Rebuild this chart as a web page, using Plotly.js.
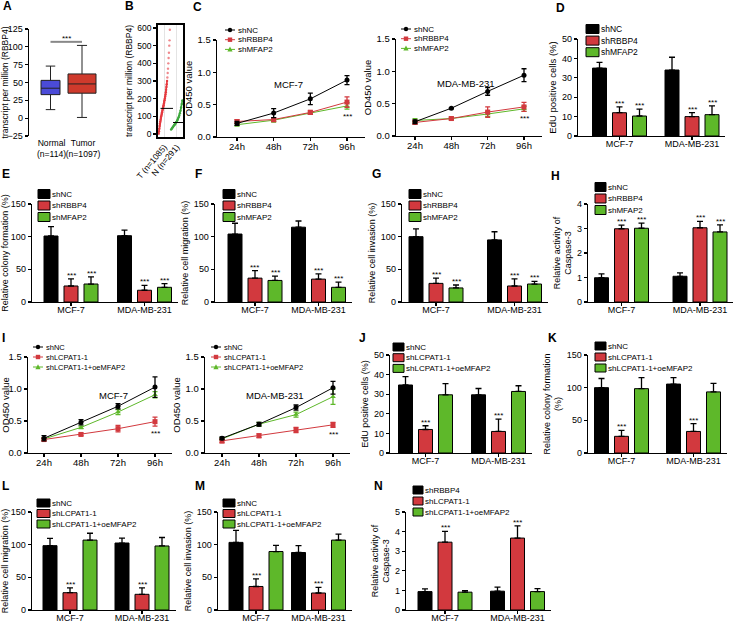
<!DOCTYPE html>
<html><head><meta charset="utf-8">
<script src="https://cdn.plot.ly/plotly-3.0.1.min.js"></script>
<style>html,body{margin:0;padding:0;background:#fff}#chart{width:738px;height:624px}</style>
</head><body><div id="chart"></div>
<script>
// ================= DATA =================
// Panel A (box summary)
const boxCategories = ['Normal<br>(n=114)', 'Tumor<br>(n=1097)'];
const boxLowerFence = [12, 1];
const boxQ1 = [33, 35];
const boxMedian = [42, 48];
const boxQ3 = [53, 62];
const boxUpperFence = [73, 102];

// Panel B (sorted TPM values read from the dot strip)
const dotCategories = ['T (n=1085)', 'N (n=291)'];
const tumorTPM = [2, 15, 30, 45, 58, 70, 80, 90, 99, 107, 115, 123, 131, 139, 147, 155, 163, 172, 181, 191, 201, 212, 224, 237, 251, 266, 282, 300, 320, 345, 370, 400, 430, 460, 500, 530, 590];
const normalTPM = [25, 30, 35, 40, 45, 50, 55, 60, 65, 70, 78, 86, 95, 105, 118, 132, 150, 170, 190];
const dotMedians = [145, 65];
const denseLimit = 300; // above this value the reference shows isolated dots

// Common categories
const timePoints = ['24h', '48h', '72h', '96h'];
const cellLines = ['MCF-7', 'MDA-MB-231'];
const groupsKD = ['shNC', 'shRBBP4', 'shMFAP2'];
const groupsRescue = ['shNC', 'shLCPAT1-1', 'shLCPAT1-1+oeMFAP2'];
const groupsN = ['shRBBP4', 'shLCPAT1-1', 'shLCPAT1-1+oeMFAP2'];

// Panel C (OD450)
const cMcfMean = [[0.21, 0.37, 0.59, 0.88], [0.24, 0.27, 0.38, 0.54], [0.19, 0.26, 0.37, 0.48]];
const cMcfErr  = [[0.03, 0.07, 0.09, 0.07], [0.03, 0.03, 0.03, 0.08], [0.02, 0.03, 0.02, 0.05]];
const cMdaMean = [[0.22, 0.43, 0.69, 0.94], [0.21, 0.27, 0.37, 0.45], [0.24, 0.27, 0.34, 0.42]];
const cMdaErr  = [[0.03, 0.01, 0.06, 0.10], [0.03, 0.02, 0.08, 0.07], [0.03, 0.02, 0.04, 0.04]];

// Panel D-H
const dMean = [[35, 34], [12, 10], [10.3, 11]];
const dErr  = [[3, 6.6], [3, 2], [3.6, 4.5]];
const eMean = [[101, 101.5], [24.5, 18], [27.5, 22.5]];
const eErr  = [[14.5, 8.5], [11, 7.5], [11, 5.5]];
const fMean = [[104, 114.5], [36.5, 35], [33, 22.5]];
const fErr  = [[16.5, 9.5], [11.5, 8], [6.5, 8]];
const gMean = [[100, 95], [28.5, 24.5], [21.5, 27.5]];
const gErr  = [[12, 12.5], [8, 11], [4.5, 4]];
const hMean = [[0.99, 1.05], [2.99, 3.03], [3.01, 2.86]];
const hErr  = [[0.16, 0.14], [0.15, 0.26], [0.21, 0.29]];

// Panel I (OD450 rescue)
const iMcfMean = [[0.23, 0.48, 0.73, 1.03], [0.21, 0.29, 0.38, 0.49], [0.22, 0.40, 0.64, 0.91]];
const iMcfErr  = [[0.04, 0.04, 0.04, 0.16], [0.02, 0.02, 0.05, 0.07], [0.02, 0.02, 0.04, 0.05]];
const iMdaMean = [[0.23, 0.45, 0.71, 1.02], [0.19, 0.27, 0.36, 0.44], [0.22, 0.45, 0.60, 0.88]];
const iMdaErr  = [[0.02, 0.03, 0.04, 0.10], [0.03, 0.03, 0.04, 0.04], [0.02, 0.03, 0.04, 0.12]];

// Panel J-N
const jMean = [[34.7, 29.7], [12, 11], [29.7, 31.4]];
const jErr  = [[4.3, 3.2], [1.9, 6.3], [5.7, 2.9]];
const kMean = [[100, 105.5], [25.5, 33], [98.5, 93.5]];
const kErr  = [[14, 10], [9, 12], [17, 13]];
const lMean = [[98.5, 102.5], [26.5, 24], [107, 98]];
const lErr  = [[11, 7.5], [7.5, 10], [10.5, 13]];
const mMean = [[103.5, 88], [36, 26], [89.5, 107]];
const mErr  = [[18.5, 10.5], [11.5, 8.5], [9.5, 9]];
const nMean = [[0.94, 0.96], [3.46, 3.67], [0.91, 0.94]];
const nErr  = [[0.14, 0.21], [0.55, 0.62], [0.08, 0.15]];

// ================= STYLE / LAYOUT HELPERS =================
const W = 738, H = 624;
const fx = p => p / W;
const fy = p => 1 - p / H;
const FONT = '"Liberation Sans", Arial, Helvetica, sans-serif';
const RED = '#D2393E', GREEN = '#5EB82A';
const COLORS = ['#000000', RED, GREEN];
const SYMBOLS = ['circle', 'square', 'triangle-up'];
const BAR_W = 14, SLOT = 20;

const traces = [];
const layout = {
  width: W, height: H, margin: {l: 0, r: 0, t: 0, b: 0},
  showlegend: false, paper_bgcolor: '#ffffff', plot_bgcolor: 'rgba(0,0,0,0)',
  font: {family: FONT, color: '#000', size: 9},
  annotations: [], shapes: [], boxmode: 'overlay'
};
const baseAxis = {
  showline: true, linecolor: '#000', linewidth: 1.3, ticks: 'outside', ticklen: 3,
  tickwidth: 1.3, tickcolor: '#000', showgrid: false, zeroline: false, fixedrange: true,
  tickfont: {family: FONT, size: 9, color: '#000'}
};
function ann(o) {
  const f = Object.assign({family: FONT, size: 9, color: '#000'}, o.font || {});
  layout.annotations.push(Object.assign({showarrow: false}, o, {font: f}));
}
function setAxes(idx, xa, ya) {
  const s = idx === 1 ? '' : String(idx);
  layout['xaxis' + s] = Object.assign({}, baseAxis, {anchor: 'y' + s}, xa);
  layout['yaxis' + s] = Object.assign({}, baseAxis, {anchor: 'x' + s}, ya);
  return s;
}
function catGeom(x0, cFirst, cLast, x1, n) {
  const unit = (cLast - cFirst) / (n - 1);
  return {domain: [fx(x0), fx(x1)], range: [(x0 - cFirst) / unit, (n - 1) + (x1 - cLast) / unit], unit};
}
function letter(t, x, y) {
  ann({xref: 'paper', yref: 'paper', x: fx(x), y: fy(y), xanchor: 'left', yanchor: 'middle',
       text: '<b>' + t + '</b>', font: {size: 12}});
}
function rectLegend(lg, names) {
  names.forEach((nm, i) => {
    const yc = lg.y + i * lg.dy;
    layout.shapes.push({type: 'rect', xref: 'paper', yref: 'paper', x0: fx(lg.x), x1: fx(lg.x + lg.w),
      y0: fy(yc + lg.h / 2), y1: fy(yc - lg.h / 2), fillcolor: COLORS[i], line: {color: '#000', width: 1}});
    ann({xref: 'paper', yref: 'paper', x: fx(lg.x + lg.w), y: fy(yc), xanchor: 'left', yanchor: 'middle',
         text: nm, font: {size: lg.fs || 8}});
  });
}
function lineLegend(lg, names) {
  names.forEach((nm, i) => {
    const yc = lg.y + i * lg.dy, xm = lg.x + lg.len / 2, r = 2.2;
    layout.shapes.push({type: 'line', xref: 'paper', yref: 'paper', x0: fx(lg.x), x1: fx(lg.x + lg.len),
      y0: fy(yc), y1: fy(yc), line: {color: COLORS[i], width: 1}});
    if (i === 0) layout.shapes.push({type: 'circle', xref: 'paper', yref: 'paper', x0: fx(xm - r), x1: fx(xm + r),
      y0: fy(yc + r), y1: fy(yc - r), fillcolor: COLORS[i], line: {width: 0}});
    else if (i === 1) layout.shapes.push({type: 'rect', xref: 'paper', yref: 'paper', x0: fx(xm - r), x1: fx(xm + r),
      y0: fy(yc + r), y1: fy(yc - r), fillcolor: COLORS[i], line: {width: 0}});
    else layout.shapes.push({type: 'path', xref: 'paper', yref: 'paper',
      path: `M${fx(xm - r - 0.4)},${fy(yc + r)} L${fx(xm + r + 0.4)},${fy(yc + r)} L${fx(xm)},${fy(yc - r - 0.6)} Z`,
      fillcolor: COLORS[i], line: {width: 0}});
    ann({xref: 'paper', yref: 'paper', x: fx(lg.x + lg.len + 1), y: fy(yc), xanchor: 'left', yanchor: 'middle',
         text: nm, font: {size: lg.fs || 8}});
  });
}
function barPanel(idx, g, names, means, errs, yMax, dtick, yTitle, starIdx, lg) {
  const xg = catGeom(g.x0, g.c0, g.c1, g.x1, cellLines.length);
  const s = setAxes(idx,
    {type: 'category', domain: xg.domain, range: xg.range, tickangle: 0, ticklabelstandoff: -4,
     tickfont: {family: FONT, size: 9}},
    {domain: [fy(g.yb), fy(g.yt)], range: [0, yMax], dtick: dtick, tick0: 0,
     title: {text: yTitle, font: {family: FONT, size: g.tf || 9}, standoff: 3}});
  names.forEach((nm, i) => {
    traces.push({type: 'bar', name: nm, x: cellLines, y: means[i], xaxis: 'x' + s, yaxis: 'y' + s,
      width: BAR_W / xg.unit, offset: ((i - 1) * SLOT - BAR_W / 2) / xg.unit,
      marker: {color: COLORS[i], line: {color: '#000', width: 1}},
      error_y: {type: 'data', symmetric: false, array: errs[i], arrayminus: errs[i].map(() => 0),
                color: '#000', thickness: 1.3, width: 3}});
    if (starIdx.includes(i)) cellLines.forEach((c, j) => ann({xref: 'x' + s, yref: 'y' + s, x: j,
      xshift: (i - 1) * SLOT, y: means[i][j] + errs[i][j], yanchor: 'bottom', yshift: -3,
      text: '***', font: {size: 8}}));
  });
  rectLegend(lg, names);
}
function linePanel(idx, g, names, means, errs, label, lg) {
  const xg = catGeom(g.x0, g.c0, g.c3, g.x1, timePoints.length);
  const s = setAxes(idx,
    {type: 'category', domain: xg.domain, range: xg.range, tickangle: 0, ticklabelstandoff: -3,
     tickfont: {family: FONT, size: 9.5}},
    {domain: [fy(g.yb), fy(g.yt)], range: [0, 1.5], dtick: 0.5, tick0: 0, tickformat: '.1f',
     tickfont: {family: FONT, size: 9.5},
     title: {text: 'OD450 value', font: {family: FONT, size: 9.5}, standoff: 3}});
  [2, 1, 0].forEach(i => {
    traces.push({type: 'scatter', mode: 'lines+markers', name: names[i], x: timePoints, y: means[i],
      xaxis: 'x' + s, yaxis: 'y' + s, line: {color: COLORS[i], width: 1},
      marker: {symbol: SYMBOLS[i], size: 5, color: COLORS[i]},
      error_y: {type: 'data', array: errs[i], color: COLORS[i], thickness: 1.3, width: 2.5}});
  });
  ann({xref: 'paper', yref: 'paper', x: fx(g.lx), y: fy(g.ly), text: label, font: {size: 9.5}});
  const last = timePoints.length - 1;
  const low = Math.min(...means.map((m, i) => m[last] - errs[i][last]));
  ann({xref: 'x' + s, yref: 'y' + s, x: last, y: low, yanchor: 'top', yshift: -1, text: '***', font: {size: 8}});
  lineLegend(lg, names);
}

// ================= PANEL A =================
(function () {
  const xg = catGeom(29, 50.5, 82, 110, 2);
  setAxes(1,
    {type: 'category', domain: xg.domain, range: xg.range, showline: false, ticks: '', tickangle: 0,
     ticklabelshift: 1, tickfont: {family: FONT, size: 8.6}},
    {domain: [fy(136), fy(29)], range: [-25, 125], dtick: 25, tick0: 0,
     tickfont: {family: FONT, size: 9},
     title: {text: 'transcript per million (RBBP4)', font: {family: FONT, size: 8.5}, standoff: 3}});
  const fills = ['#4B4BD8', '#CF3A2C'];
  const widths = [19, 28];
  const caps = [0.5, 0.36];
  boxCategories.forEach((c, i) => traces.push({type: 'box', x: [c], q1: [boxQ1[i]], median: [boxMedian[i]],
    q3: [boxQ3[i]], lowerfence: [boxLowerFence[i]], upperfence: [boxUpperFence[i]],
    xaxis: 'x', yaxis: 'y', fillcolor: fills[i], line: {color: '#222', width: 1},
    width: widths[i] / xg.unit, whiskerwidth: caps[i], boxpoints: false, name: c}));
  const sigY = Math.max(...boxUpperFence) + 5;
  layout.shapes.push({type: 'line', xref: 'x', yref: 'y', x0: 0, x1: 1, y0: sigY, y1: sigY,
    line: {color: '#888', width: 2}});
  ann({xref: 'x', yref: 'y', x: 0.5, y: sigY, yanchor: 'bottom', yshift: -3, text: '***', font: {size: 8}});
})();

// ================= PANEL B =================
(function () {
  const yTopPx = 28, yBotPx = 134, frameTop = 25, frameBot = 137;
  const per = 600 / (yBotPx - yTopPx);
  setAxes(2,
    {domain: [fx(158), fx(183)], range: [-0.5, 1.5], tickvals: [0, 1], ticktext: dotCategories,
     tickangle: -50, ticks: '', mirror: true, linewidth: 1.8, showgrid: true, gridcolor: '#e4e4e4',
     tickfont: {family: FONT, size: 8.5}},
    {domain: [fy(frameBot), fy(frameTop)], range: [0 - (frameBot - yBotPx) * per, 600 + (yTopPx - frameTop) * per],
     dtick: 100, tick0: 0, mirror: true, linewidth: 1.8, tickfont: {family: FONT, size: 8.5},
     title: {text: 'transcript per million (RBBP4)', font: {family: FONT, size: 8.5}, standoff: 3}});
  const sets = [tumorTPM, normalTPM];
  const cols = ['#E5393F', '#3DA83D'];
  sets.forEach((vals, c) => {
    const xs = vals.map((v, k) => c - 0.45 + 0.9 * k / (vals.length - 1));
    const dense = vals.map((v, k) => k).filter(k => vals[k] <= denseLimit);
    const tail = vals.map((v, k) => k).filter(k => vals[k] > denseLimit);
    traces.push({type: 'scatter', mode: 'lines+markers', x: dense.map(k => xs[k]), y: dense.map(k => vals[k]),
      xaxis: 'x2', yaxis: 'y2', line: {color: cols[c], width: 1.6}, marker: {color: cols[c], size: 2.4}});
    if (tail.length) traces.push({type: 'scatter', mode: 'markers', x: tail.map(k => xs[k]), y: tail.map(k => vals[k]),
      xaxis: 'x2', yaxis: 'y2', marker: {color: cols[c], size: 2.4, opacity: 0.6}});
    traces.push({type: 'scatter', mode: 'lines', x: [c - 0.3, c + 0.7], y: [dotMedians[c], dotMedians[c]],
      xaxis: 'x2', yaxis: 'y2', line: {color: '#000', width: 1}});
  });
})();

// ================= PANEL C =================
linePanel(3, {x0: 217, c0: 237, c3: 347, x1: 365, yt: 40, yb: 137, lx: 288, ly: 77},
  groupsKD, cMcfMean, cMcfErr, 'MCF-7', {x: 225, y: 30, dy: 9.7, len: 10});
linePanel(4, {x0: 396, c0: 415, c3: 524, x1: 542, yt: 39, yb: 136, lx: 466, ly: 76},
  groupsKD, cMdaMean, cMdaErr, 'MDA-MB-231', {x: 401, y: 29, dy: 9.7, len: 10});

// ================= PANELS D-H =================
barPanel(5, {x0: 578, c0: 619.5, c1: 692, x1: 725, yt: 39, yb: 136, tf: 9.5}, groupsKD, dMean, dErr, 50, 10,
  'EdU positive cells (%)', [1, 2], {x: 586, y: 29, dy: 11.6, w: 13, h: 9, fs: 8.5});
barPanel(6, {x0: 32, c0: 71, c1: 144.5, x1: 178, yt: 204, yb: 302}, groupsKD, eMean, eErr, 150, 50,
  'Relative colony formation (%)', [1, 2], {x: 38, y: 194, dy: 11.5, w: 12, h: 9});
barPanel(7, {x0: 215, c0: 255, c1: 318.5, x1: 352, yt: 204, yb: 302}, groupsKD, fMean, fErr, 150, 50,
  'Relative cell migration (%)', [1, 2], {x: 223, y: 194, dy: 11.5, w: 12, h: 9});
barPanel(8, {x0: 402, c0: 436, c1: 514.5, x1: 548, yt: 204, yb: 302}, groupsKD, gMean, gErr, 150, 50,
  'Relative cell invasion (%)', [1, 2], {x: 409, y: 194, dy: 11.5, w: 12, h: 9});
barPanel(9, {x0: 588, c0: 621.5, c1: 700, x1: 733, yt: 204, yb: 302}, groupsKD, hMean, hErr, 4, 1,
  'Relative activity of<br>Caspase-3', [1, 2], {x: 595, y: 187, dy: 11.5, w: 11, h: 9});

// ================= PANEL I =================
linePanel(10, {x0: 28, c0: 44, c3: 155, x1: 172, yt: 357, yb: 453, lx: 97, ly: 395},
  groupsRescue, iMcfMean, iMcfErr, 'MCF-7', {x: 33, y: 347, dy: 10, len: 10, fs: 7.5});
linePanel(11, {x0: 205, c0: 222, c3: 333, x1: 350, yt: 357, yb: 453, lx: 275, ly: 395},
  groupsRescue, iMdaMean, iMdaErr, 'MDA-MB-231', {x: 211, y: 347, dy: 10, len: 10, fs: 7.5});

// ================= PANELS J-N =================
barPanel(12, {x0: 390, c0: 425.5, c1: 498.5, x1: 532, yt: 355, yb: 453}, groupsRescue, jMean, jErr, 50, 10,
  'EdU positive cells (%)', [1], {x: 393, y: 347, dy: 10.7, w: 11, h: 8});
barPanel(13, {x0: 588, c0: 621.5, c1: 693.5, x1: 727, yt: 355, yb: 453}, groupsRescue, kMean, kErr, 150, 50,
  'Relative colony formation<br>(%)', [1], {x: 595, y: 346, dy: 11, w: 11, h: 8});
barPanel(14, {x0: 32, c0: 70, c1: 142, x1: 176, yt: 512, yb: 610}, groupsRescue, lMean, lErr, 150, 50,
  'Relative cell migration (%)', [1], {x: 37, y: 503, dy: 10.5, w: 13, h: 8});
barPanel(15, {x0: 218, c0: 256, c1: 318.5, x1: 352, yt: 512, yb: 610}, groupsRescue, mMean, mErr, 150, 50,
  'Relative cell invasion (%)', [1], {x: 223, y: 503, dy: 10.5, w: 12, h: 8});
barPanel(16, {x0: 406, c0: 445, c1: 517.5, x1: 551, yt: 512, yb: 610}, groupsN, nMean, nErr, 5, 1,
  'Relative activity of<br>Caspase-3', [1], {x: 413, y: 490, dy: 11, w: 10, h: 8});

// ================= PANEL LETTERS =================
[['A', 1, 6], ['B', 123, 6], ['C', 191, 7], ['D', 554, 8], ['E', 0, 174], ['F', 193, 174], ['G', 370, 174],
 ['H', 549, 176], ['I', 0, 338], ['J', 357, 338], ['K', 546, 338], ['L', 0, 486], ['M', 193, 486], ['N', 372, 486]]
  .forEach(l => letter(l[0], l[1], l[2]));

Plotly.newPlot('chart', traces, layout, {staticPlot: true, displayModeBar: false});
</script>
</body></html>
